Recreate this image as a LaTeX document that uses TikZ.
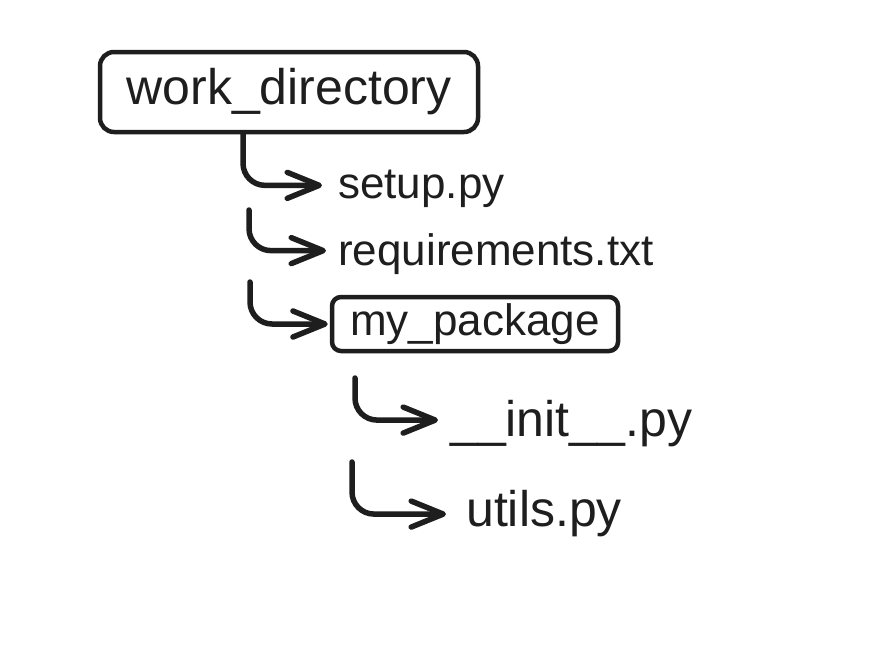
\documentclass[tikz,border=0pt]{standalone}
\usepackage{fontspec}
\setmainfont{Liberation Sans}
\usetikzlibrary{arrows.meta}
\definecolor{ink}{HTML}{1E1E1E}
\tikzset{
  big/.style={font=\fontsize{50}{58}\selectfont, text=ink},
  mid/.style={font=\fontsize{44}{52}\selectfont, text=ink},
  dirbox/.style={draw=ink, line width=4.5pt, rounded corners=14pt, inner sep=0pt},
  filetext/.style={inner sep=0pt, anchor=base west},
  arr/.style={draw=ink, line width=5.5pt, line cap=round, line join=round,
    rounded corners=22pt,
    -{Straight Barb[length=32pt,width=26pt,line width=5.5pt,round]}},
}
\begin{document}
\begin{tikzpicture}[x=1pt,y=-1pt]
\useasboundingbox[fill=white] (0,0) rectangle (894,654);
% directory boxes
\node[dirbox, big, minimum width=378pt, minimum height=80pt] (work) at (289,92) {work\_directory};
\node[dirbox, mid, rounded corners=9pt, minimum width=286pt, minimum height=54pt] (pkg) at (475,324) {my\_package};
% files
\node[filetext, mid] (setup) at (338,198) {setup.py};
\node[filetext, mid] (req) at (338,265) {requirements.txt};
\node[filetext, big] (init) at (450,436) {\_\_init\_\_.py};
\node[filetext, big] (utils) at (466,526) {utils.py};
% free starts of connectors
\coordinate (c2) at (249,210);
\coordinate (c3) at (250,282);
\coordinate (c4) at (355,378);
\coordinate (c5) at (352,462);
% connectors
\draw[arr] ([xshift=-46pt]work.south) |- ([xshift=-16pt,yshift=3pt]setup.west);
\draw[arr] (c2) |- ([xshift=-12pt,yshift=3pt]req.west);
\draw[arr] (c3) |- ([xshift=-2pt]pkg.west);
\draw[arr] (c4) |- ([xshift=-12pt,yshift=3pt]init.west);
\draw[arr] (c5) |- ([xshift=-20pt,yshift=-1pt]utils.west);
\end{tikzpicture}
\end{document}
